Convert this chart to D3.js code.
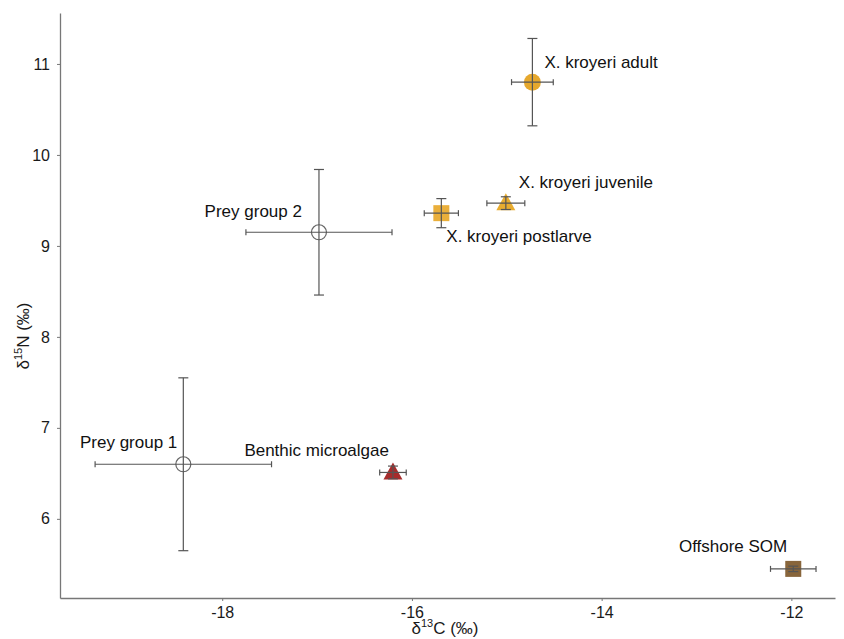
<!DOCTYPE html>
<html>
<head>
<meta charset="utf-8">
<script src="https://cdn.jsdelivr.net/npm/d3@7"></script>
<style>
  html, body { margin: 0; padding: 0; background: #fff; }
  svg { display: block; font-family: "Liberation Sans", Arial, sans-serif; }
</style>
</head>
<body>
<svg id="chart" width="844" height="639"></svg>
<script>
// ---- data ----
const groups   = ["X. kroyeri adult", "X. kroyeri juvenile", "X. kroyeri postlarve", "Prey group 2", "Prey group 1", "Benthic microalgae", "Offshore SOM"];
const d13C     = [-14.73, -15.01, -15.69, -16.98, -18.41, -16.20, -11.98];
const d13C_sd  = [0.22, 0.20, 0.18, 0.77, 0.93, 0.14, 0.24];
const d15N     = [10.80, 9.47, 9.36, 9.15, 6.60, 6.51, 5.45];
const d15N_sd  = [0.48, 0.07, 0.16, 0.69, 0.95, 0.07, 0.03];
const shapes   = ["circle", "triangle", "square", "open", "open", "triangle", "square"];
const xTicks   = [-18, -16, -14, -12];
const yTicks   = [6, 7, 8, 9, 10, 11];

// ---- styles ----
const fills = ["#E4A11B", "#E6A51E", "#E8A626", "none", "none", "#9E1A1A", "#7B5426"];
const labelPos = [ // dx, dy, anchor
  [12, -14, "start"], [13, -15, "start"], [5, 29, "start"], [-17, -15, "end"],
  [-6, -16, "end"], [-4, -16, "end"], [-6, -17, "end"]
];

const svg = d3.select("#chart");
const x = d3.scaleLinear().domain([-19.71, -11.54]).range([60, 835]);
const y = d3.scaleLinear().domain([5.13, 11.56]).range([598, 13]);

const axisColor = "#777";
const xAxis = svg.append("g").attr("transform", "translate(0,598)")
  .call(d3.axisBottom(x).tickValues(xTicks).tickSize(3).tickSizeOuter(0).tickFormat(d => String(d)));
const yAxis = svg.append("g").attr("transform", "translate(60,0)")
  .call(d3.axisLeft(y).tickValues(yTicks).tickSize(3).tickSizeOuter(0).tickFormat(d3.format("d")));
[xAxis, yAxis].forEach(g => {
  g.select(".domain").attr("stroke", axisColor).attr("stroke-width", 1.3);
  g.selectAll(".tick line").attr("stroke", axisColor).attr("stroke-width", 1);
  g.selectAll(".tick text").attr("fill", "#1a1a1a").style("font-size", "16px")
    .style("font-family", "'Liberation Sans', Arial, sans-serif");
});
xAxis.selectAll(".tick text").attr("dy", "0.85em");
yAxis.selectAll(".tick text").attr("dx", "-0.25em");

// axis titles
const xt = svg.append("text").attr("x", 445).attr("y", 634).attr("text-anchor", "middle")
  .style("font-size", "17px").attr("fill", "#1a1a1a");
xt.append("tspan").text("δ");
xt.append("tspan").attr("dy", -7).style("font-size", "11px").text("13");
xt.append("tspan").attr("dy", 7).text("C (‰)");

const yt = svg.append("text").attr("transform", "translate(29,336) rotate(-90)").attr("text-anchor", "middle")
  .style("font-size", "17px").attr("fill", "#1a1a1a");
yt.append("tspan").text("δ");
yt.append("tspan").attr("dy", -7).style("font-size", "11px").text("15");
yt.append("tspan").attr("dy", 7).text("N (‰)");

const data = groups.map((g, i) => ({g, cx: d13C[i], cy: d15N[i], sx: d13C_sd[i], sy: d15N_sd[i], shape: shapes[i], fill: fills[i], lp: labelPos[i]}));

// markers
const marks = svg.append("g");
data.forEach(d => {
  const px = x(d.cx), py = y(d.cy);
  if (d.shape === "circle") {
    marks.append("circle").attr("cx", px).attr("cy", py).attr("r", 8.5).attr("fill", d.fill).attr("opacity", 0.92);
  } else if (d.shape === "square") {
    marks.append("rect").attr("x", px - 8).attr("y", py - 8).attr("width", 16).attr("height", 16).attr("fill", d.fill).attr("opacity", 0.9);
  } else if (d.shape === "triangle") {
    marks.append("path").attr("d", `M${px},${py - 10}L${px + 9.5},${py + 7}L${px - 9.5},${py + 7}Z`).attr("fill", d.fill).attr("opacity", 0.92);
  } else {
    marks.append("circle").attr("cx", px).attr("cy", py).attr("r", 7.5).attr("fill", "none").attr("stroke", "#666").attr("stroke-width", 1.2);
  }
});

// error bars
const eb = svg.append("g").attr("stroke", "#555").attr("stroke-width", 1.2).attr("fill", "none");
data.forEach(d => {
  const px = x(d.cx), py = y(d.cy);
  const x0 = x(d.cx - d.sx), x1 = x(d.cx + d.sx);
  const y0 = y(d.cy - d.sy), y1 = y(d.cy + d.sy);
  eb.append("line").attr("x1", x0).attr("x2", x1).attr("y1", py).attr("y2", py);
  eb.append("line").attr("x1", x0).attr("x2", x0).attr("y1", py - 3).attr("y2", py + 3);
  eb.append("line").attr("x1", x1).attr("x2", x1).attr("y1", py - 3).attr("y2", py + 3);
  eb.append("line").attr("x1", px).attr("x2", px).attr("y1", y0).attr("y2", y1);
  eb.append("line").attr("x1", px - 5).attr("x2", px + 5).attr("y1", y0).attr("y2", y0);
  eb.append("line").attr("x1", px - 5).attr("x2", px + 5).attr("y1", y1).attr("y2", y1);
});

// labels
svg.append("g").selectAll("text").data(data).join("text")
  .attr("x", d => x(d.cx) + d.lp[0]).attr("y", d => y(d.cy) + d.lp[1])
  .attr("text-anchor", d => d.lp[2])
  .style("font-size", "17px").attr("fill", "#111")
  .text(d => d.g);
</script>
</body>
</html>
